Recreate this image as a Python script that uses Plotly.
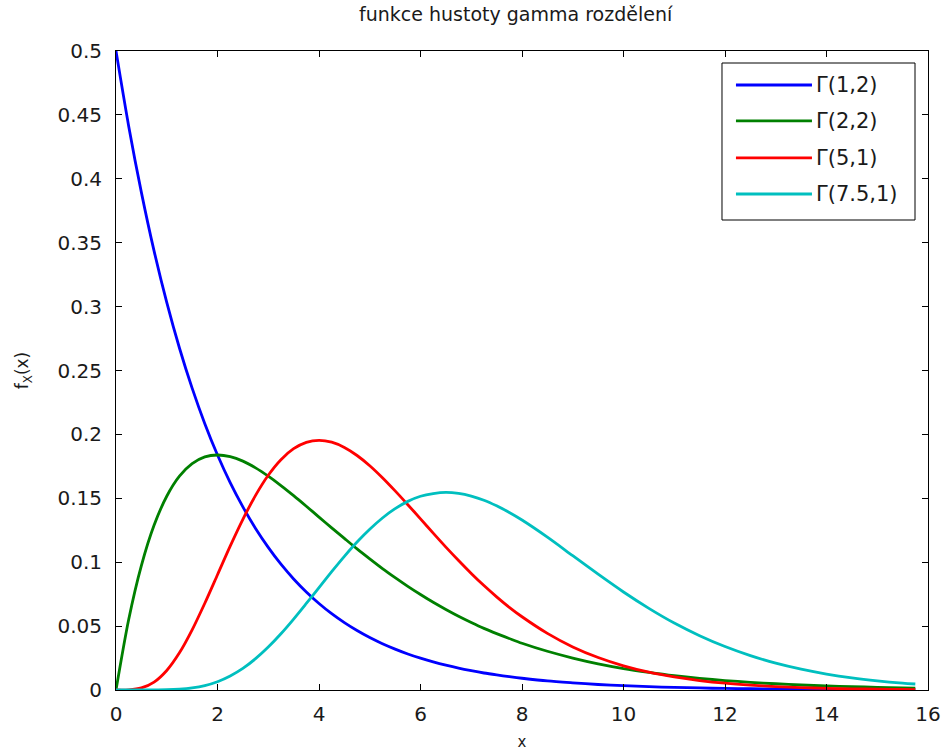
import plotly.graph_objects as go

# Sample points along x (finer spacing where the curves bend most)
x_vals = [0, 0.25, 0.5, 0.75, 1, 1.25, 1.5, 1.75, 2, 2.25, 2.5, 2.75, 3, 3.25,
          3.5, 3.75, 4, 4.25, 4.5, 4.75, 5, 5.25, 5.5, 5.75, 6, 6.25, 6.5,
          6.75, 7, 7.25, 7.5, 7.75, 8,
          8.5, 9, 9.5, 10, 10.5, 11, 11.5, 12, 12.5, 13, 13.5, 14, 14.5, 15,
          15.5, 15.75]

# Density values for each gamma distribution
g_1_2 = [0.500, 0.4412, 0.3894, 0.3436, 0.3033, 0.2676, 0.2362, 0.2084, 0.1839,
         0.1623, 0.1433, 0.1264, 0.1116, 0.0984, 0.0869, 0.0767, 0.0677, 0.0597,
         0.0527, 0.0465, 0.0410, 0.0362, 0.0320, 0.0282, 0.0249, 0.0220, 0.0194,
         0.0171, 0.0151, 0.0133, 0.0118, 0.0104, 0.0092,
         0.0071, 0.0056, 0.0043, 0.0034, 0.0026, 0.0020, 0.0016, 0.0012, 0.0010,
         0.0008, 0.0006, 0.0005, 0.0004, 0.0003, 0.0002, 0.0002]
g_2_2 = [0.000, 0.0552, 0.0974, 0.1289, 0.1516, 0.1673, 0.1771, 0.1824, 0.1839,
         0.1826, 0.1791, 0.1738, 0.1673, 0.1600, 0.1521, 0.1438, 0.1353, 0.1269,
         0.1186, 0.1104, 0.1026, 0.0950, 0.0879, 0.0811, 0.0747, 0.0686, 0.0630,
         0.0577, 0.0528, 0.0482, 0.0441, 0.0403, 0.0366,
         0.0303, 0.0250, 0.0205, 0.0168, 0.0138, 0.0112, 0.0091, 0.0074, 0.0060,
         0.0049, 0.0039, 0.0032, 0.0026, 0.0021, 0.0017, 0.0015]
g_5_1 = [0.000, 0.0001, 0.0016, 0.0062, 0.0153, 0.0291, 0.0471, 0.0679, 0.0902,
         0.1126, 0.1336, 0.1523, 0.1680, 0.1802, 0.1888, 0.1938, 0.1954, 0.1939,
         0.1898, 0.1835, 0.1755, 0.1661, 0.1558, 0.1450, 0.1339, 0.1227, 0.1118,
         0.1013, 0.0912, 0.0817, 0.0729, 0.0647, 0.0573,
         0.0443, 0.0337, 0.0254, 0.0189, 0.0139, 0.0102, 0.0074, 0.0053, 0.0038,
         0.0027, 0.0019, 0.0013, 0.0009, 0.00065, 0.00045, 0.00037]
g_75_1 = [0.000, 0.0000, 0.0000, 0.00004, 0.0002, 0.0007, 0.0017, 0.0035, 0.0065,
          0.0110, 0.0169, 0.0245, 0.0336, 0.0440, 0.0555, 0.0677, 0.0801, 0.0926,
          0.1046, 0.1158, 0.1258, 0.1346, 0.1419, 0.1476, 0.1516, 0.1537, 0.1546,
          0.1538, 0.1517, 0.1485, 0.1441, 0.1389, 0.1330,
          0.1196, 0.1051, 0.0906, 0.0767, 0.0639, 0.0524, 0.0425, 0.0340, 0.0269,
          0.0210, 0.0163, 0.0125, 0.0095, 0.0072, 0.0054, 0.0047]

series = [g_1_2, g_2_2, g_5_1, g_75_1]
series_names = ["Γ(1,2)", "Γ(2,2)", "Γ(5,1)", "Γ(7.5,1)"]
colors = ["#0000ff", "#008000", "#ff0000", "#00bfbf"]

x_ticks = [0, 2, 4, 6, 8, 10, 12, 14, 16]
y_ticks = [0, 0.05, 0.1, 0.15, 0.2, 0.25, 0.3, 0.35, 0.4, 0.45, 0.5]
y_ticktext = ["0", "0.05", "0.1", "0.15", "0.2", "0.25", "0.3", "0.35",
              "0.4", "0.45", "0.5"]

FONT = "DejaVu Sans, Verdana, sans-serif"
TXT = "#1a1a1a"

fig = go.Figure()
for ys, name, c in zip(series, series_names, colors):
    fig.add_trace(go.Scatter(
        x=x_vals, y=ys, name=name, mode="lines",
        line=dict(color=c, width=2.8, shape="spline", smoothing=0.8),
        showlegend=False,
    ))

axis_common = dict(
    showline=True, linecolor="black", linewidth=1, mirror="ticks",
    ticks="inside", ticklen=6, tickcolor="black", tickwidth=1,
    showgrid=False, zeroline=False, automargin=False,
    tickfont=dict(family=FONT, size=20, color=TXT),
)

fig.update_xaxes(range=[0, 16], tickvals=x_ticks, ticklabelstandoff=6,
                 title=dict(text="x", font=dict(family=FONT, size=15, color=TXT),
                            standoff=16),
                 **axis_common)
fig.update_yaxes(range=[0, 0.5], tickvals=y_ticks, ticktext=y_ticktext,
                 ticklabelstandoff=9,
                 title=dict(text="f<sub>X</sub>(x)",
                            font=dict(family=FONT, size=17, color=TXT),
                            standoff=24),
                 **axis_common)

# Legend box drawn in paper coordinates
shapes = []
annotations = []
box_x0, box_x1 = 0.7463, 0.9840
box_y1, box_y0 = 0.9812, 0.7355
shapes.append(dict(type="rect", xref="paper", yref="paper",
                   x0=box_x0, x1=box_x1, y0=box_y0, y1=box_y1,
                   line=dict(color="black", width=1), fillcolor="white",
                   layer="above"))
row_y = [0.9468, 0.8905, 0.8326, 0.7762]
for name, c, ry in zip(series_names, colors, row_y):
    shapes.append(dict(type="line", xref="paper", yref="paper",
                       x0=0.7635, x1=0.8571, y0=ry, y1=ry,
                       line=dict(color=c, width=2.8), layer="above"))
    annotations.append(dict(xref="paper", yref="paper", x=0.8600, y=ry,
                            xanchor="left", yanchor="middle", text=name,
                            showarrow=False,
                            font=dict(family=FONT, size=21, color=TXT)))

fig.update_layout(
    width=941, height=751,
    margin=dict(l=116, r=13, t=51, b=61, autoexpand=False),
    paper_bgcolor="white", plot_bgcolor="white",
    title=dict(text="funkce hustoty gamma rozdělení", x=0.548, xanchor="center",
               y=0.981, yanchor="middle",
               font=dict(family=FONT, size=19, color=TXT)),
    shapes=shapes, annotations=annotations,
)

fig.write_html("out.html")
